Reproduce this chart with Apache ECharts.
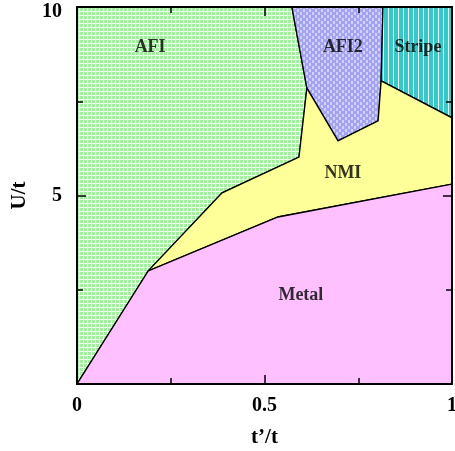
<!DOCTYPE html>
<html><head><meta charset="utf-8">
<script src="https://cdn.jsdelivr.net/npm/echarts@6/dist/echarts.min.js"></script>
<style>html,body{margin:0;padding:0;background:#fff}#c{width:455px;height:451px}</style>
</head><body><div id="c"></div>
<script>
// Region boundaries, [t'/t, U/t]
const afiPts = [[0,0],[0,10],[0.573,10],[0.613,7.85],[0.592,6.02],[0.387,5.07],[0.19,3.0]];
const afi2Pts = [[0.573,10],[0.816,10],[0.811,8.04],[0.803,6.98],[0.696,6.45],[0.613,7.85]];
const stripePts = [[0.816,10],[1,10],[1,7.06],[0.811,8.04]];
const nmiPts = [[0.19,3.0],[0.387,5.07],[0.592,6.02],[0.613,7.85],[0.696,6.45],[0.803,6.98],[0.811,8.04],[1,7.06],[1,5.3],[0.536,4.43]];
const metalPts = [[0,0],[0.19,3.0],[0.536,4.43],[1,5.3],[1,0]];
const regionNames = ['AFI','AFI2','Stripe','NMI','Metal'];
const labelX = [0.195,0.709,0.909,0.709,0.597];
const labelY = [8.94,8.94,8.94,5.6,2.36];
const xTickLabels = {0:'0',0.5:'0.5',1:'1'};
const yTickLabels = {5:'5',10:'{top|10}'};

function pat(w,h,draw){const c=document.createElement('canvas');c.width=w;c.height=h;const g=c.getContext('2d');draw(g);return {image:c,repeat:'repeat'};}
const greenPat = pat(4,4,g=>{g.fillStyle='#e6ffe6';g.fillRect(0,0,4,4);g.fillStyle='#a3ee9f';g.fillRect(0,0,3,3);});
const bluePat = pat(6,6,g=>{g.fillStyle='#a3a3f0';g.fillRect(0,0,6,6);g.fillStyle='#d0d0fa';g.fillRect(0,0,2,3);g.fillRect(3,3,2,3);});
const tealPat = pat(5,5,g=>{g.fillStyle='#38c8c8';g.fillRect(0,0,5,5);g.fillStyle='#e8ffff';g.fillRect(3,0,1,5);});
const regions = [
  {pts:afiPts, fill:greenPat},
  {pts:afi2Pts, fill:bluePat},
  {pts:stripePts, fill:tealPat},
  {pts:nmiPts, fill:'#ffff99'},
  {pts:metalPts, fill:'#ffc0ff'}
];
const font = '"Liberation Serif","DejaVu Serif",serif';
const chart = echarts.init(document.getElementById('c'));
const axCommon = {
  z:10,
  axisLine:{onZero:false,lineStyle:{color:'#000',width:2}},
  splitLine:{show:false}
};
const tickStyle = {inside:true,length:9,lineStyle:{color:'#000',width:1.5}};
const minorStyle = {show:true,splitNumber:2,length:6,lineStyle:{color:'#000',width:1.5}};
const lblFont = {fontFamily:font,fontWeight:'bold',fontSize:20,color:'#000'};
chart.setOption({
  animation:false,
  grid:{left:77,top:7,right:3,bottom:67,containLabel:false,outerBoundsMode:'none'},
  xAxis:[
    Object.assign({type:'value',min:0,max:1,interval:0.5,position:'bottom',
      name:'t\u2019/t',nameLocation:'middle',nameGap:43,
      nameTextStyle:{fontFamily:font,fontWeight:'bold',fontSize:21,color:'#000'},
      axisTick:tickStyle, minorTick:minorStyle,
      axisLabel:Object.assign({margin:12,
        formatter:v=>xTickLabels[v]!==undefined?xTickLabels[v]:''},lblFont)},axCommon),
    Object.assign({type:'value',min:0,max:1,interval:0.5,position:'top',
      axisTick:tickStyle, minorTick:minorStyle,
      axisLabel:{show:false}},axCommon)
  ],
  yAxis:[
    Object.assign({type:'value',min:0,max:10,interval:5,position:'left',
      name:'U/t',nameLocation:'middle',nameGap:47,
      nameTextStyle:{fontFamily:font,fontWeight:'bold',fontSize:21,color:'#000'},
      axisTick:tickStyle, minorTick:minorStyle,
      axisLabel:Object.assign({margin:15,
        rich:{top:Object.assign({padding:[10,0,0,0]},lblFont)},
        formatter:v=>yTickLabels[v]!==undefined?yTickLabels[v]:''},lblFont)},axCommon),
    Object.assign({type:'value',min:0,max:10,interval:5,position:'right',
      axisTick:tickStyle, minorTick:minorStyle,
      axisLabel:{show:false}},axCommon)
  ],
  series:[
    {type:'custom',xAxisIndex:0,yAxisIndex:0,clip:true,z:1,
     data:regions.map((r,i)=>i),
     renderItem:function(params,api){
       const r = regions[params.dataIndex];
       return {type:'polygon',shape:{points:r.pts.map(p=>api.coord(p))},
         style:{fill:r.fill,stroke:'#000',lineWidth:1.3}};
     }},
    {type:'scatter',xAxisIndex:0,yAxisIndex:0,symbolSize:0,z:5,
     data:regionNames.map((n,i)=>({name:n,value:[labelX[i],labelY[i]]})),
     label:{show:true,position:'inside',formatter:p=>p.name,
       fontFamily:font,fontWeight:'bold',fontSize:18,color:'#000'}}
  ]
});
</script></body></html>
